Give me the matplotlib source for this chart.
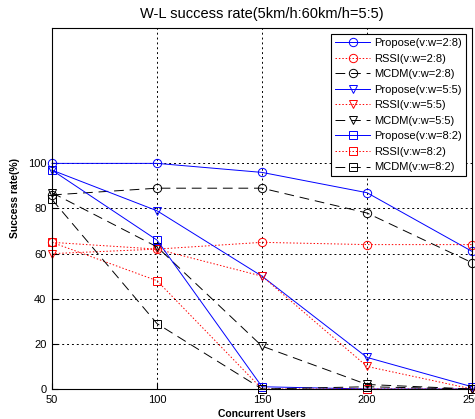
import matplotlib
matplotlib.use("Agg")
import matplotlib.pyplot as plt

plt.rcParams['font.family'] = ['Liberation Sans', 'DejaVu Sans']

users = [50, 100, 150, 200, 250]
propose_28 = [100, 100, 96, 87, 61]
rssi_28 = [65, 62, 65, 64, 64]
mcdm_28 = [86, 89, 89, 78, 56]
propose_55 = [97, 79, 50, 14, 1]
rssi_55 = [60, 62, 50, 10, 0]
mcdm_55 = [87, 63, 19, 2, 0]
propose_82 = [97, 66, 1, 0, 0]
rssi_82 = [65, 48, 0, 0, 0]
mcdm_82 = [84, 29, 0, 1, 0]
labels = ['Propose(v:w=2:8)', 'RSSI(v:w=2:8)', 'MCDM(v:w=2:8)',
          'Propose(v:w=5:5)', 'RSSI(v:w=5:5)', 'MCDM(v:w=5:5)',
          'Propose(v:w=8:2)', 'RSSI(v:w=8:2)', 'MCDM(v:w=8:2)']
yticks = [0, 20, 40, 60, 80, 100]
xticks = [50, 100, 150, 200, 250]

fig = plt.figure(figsize=(4.75, 4.19), dpi=100)
ax = fig.add_axes([52/475, 1-389/419, 420/475, 361/419])

series = [propose_28, rssi_28, mcdm_28, propose_55, rssi_55, mcdm_55,
          propose_82, rssi_82, mcdm_82]
markers = ['o', 'o', 'o', 'v', 'v', 'v', 's', 's', 's']
styles = [('#0000ff', '-'), ('#ff0000', (0, (1.5, 2))), ('#000000', (0, (10, 6)))] * 3
for s, m, (c, ls), lab in zip(series, markers, styles, labels):
    ax.plot(users, s, color=c, linestyle=ls, linewidth=0.7, marker=m,
            markersize=6, markerfacecolor='none', markeredgecolor=c,
            markeredgewidth=0.7, label=lab, clip_on=False)

ax.set_xlim(50, 250)
ax.set_ylim(0, 160)
ax.set_xticks(xticks)
ax.set_yticks(yticks)
ax.tick_params(direction='in', labelsize=8, length=4, pad=4)
ax.grid(True, linestyle=(0, (2, 3)), color='black', linewidth=0.7)
ax.set_axisbelow(True)
ax.set_title('W-L success rate(5km/h:60km/h=5:5)', fontsize=10.5, pad=7)
ax.set_xlabel('Concurrent Users', fontsize=7.5, fontweight='bold', labelpad=3)
ax.set_ylabel('Success rate(%)', fontsize=7.5, fontweight='bold')
ax.yaxis.set_label_coords(-0.076, 0.53)
leg = ax.legend(loc='upper right', fontsize=8, fancybox=False, framealpha=1,
                edgecolor='black', borderpad=0.35, labelspacing=0.5,
                handlelength=3.15, handletextpad=0.35, borderaxespad=0.55)
leg.get_frame().set_linewidth(0.8)
fig.savefig('out.png', dpi=100)
